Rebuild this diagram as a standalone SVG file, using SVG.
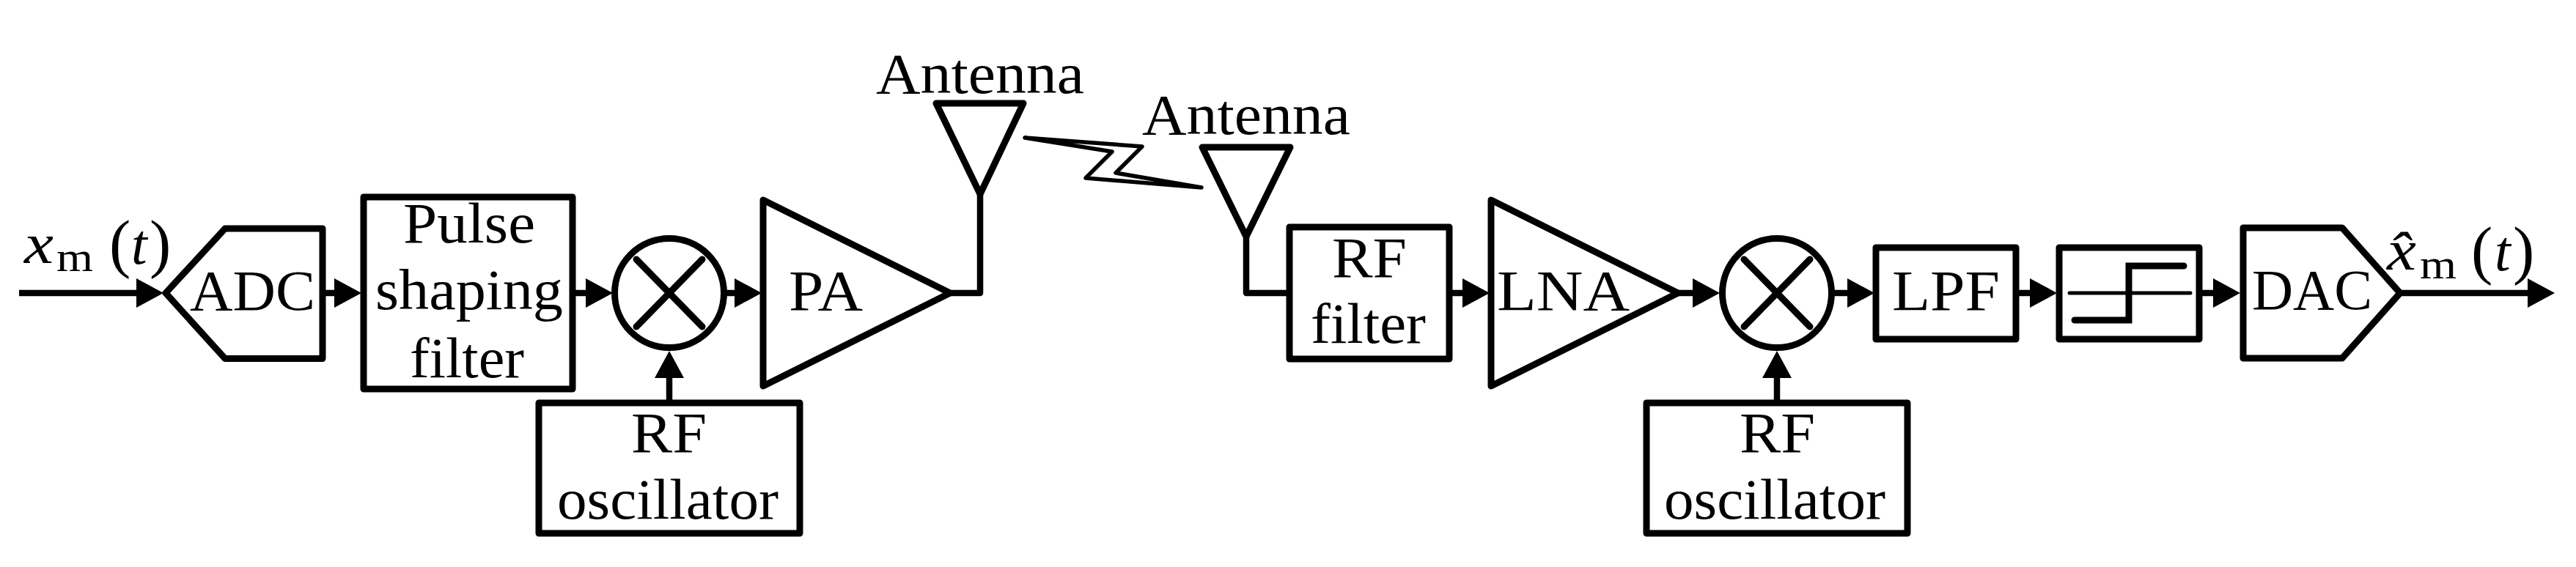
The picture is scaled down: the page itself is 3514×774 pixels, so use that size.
<svg xmlns="http://www.w3.org/2000/svg" width="3514" height="774" viewBox="0 0 3514 774">
<defs>
<style>
.s{fill:#fff;stroke:#000;stroke-width:9;stroke-linejoin:round;stroke-linecap:round}
.n{fill:none;stroke:#000;stroke-width:9;stroke-linejoin:miter;stroke-linecap:round}
.c{fill:none;stroke:#000;stroke-width:8.500;stroke-linejoin:round;stroke-linecap:butt}
.z{fill:#fff;stroke:#000;stroke-width:5.500;stroke-linejoin:round;stroke-linecap:round}
text{font-family:"Liberation Serif","Times New Roman",serif;font-size:78px;fill:#000}
.i{font-style:italic}
.sub{font-size:56px}
.p{font-size:88px}
</style>
<marker id="a" markerUnits="userSpaceOnUse" markerWidth="37" markerHeight="40" refX="5" refY="20" orient="auto"><path d="M0 0L37 20L0 40z" fill="#000"/></marker>
</defs>
<g id="connectors">
<path class="c" d="M26 400H191" stroke-linecap="round" marker-end="url(#a)"/>
<path class="c" d="M440 400H461" marker-end="url(#a)"/>
<path class="c" d="M781 400H804" marker-end="url(#a)"/>
<path class="c" d="M988 400H1007" marker-end="url(#a)"/>
<path class="c" d="M913 550V511" marker-end="url(#a)"/>
<path class="c" d="M1296 400H1337V265"/>
<path class="c" d="M1700 323V400H1760"/>
<path class="c" d="M1977 400H2000" marker-end="url(#a)"/>
<path class="c" d="M2289 400H2314" marker-end="url(#a)"/>
<path class="c" d="M2424 550V511" marker-end="url(#a)"/>
<path class="c" d="M2498 400H2525" marker-end="url(#a)"/>
<path class="c" d="M2750 400H2774" marker-end="url(#a)"/>
<path class="c" d="M3000 400H3024" marker-end="url(#a)"/>
<path class="c" d="M3274 400H3453" marker-end="url(#a)"/>
</g>
<g id="input-label">
<text class="i" x="33" y="359" font-size="80" textLength="40" lengthAdjust="spacingAndGlyphs">x</text><text class="sub" x="77" y="370" textLength="50" lengthAdjust="spacingAndGlyphs">m</text><text class="p" x="149" y="362">(</text><text class="i" x="179" y="360" font-size="80">t</text><text class="p" x="204" y="362">)</text>
</g>
<g id="adc"><path class="s" d="M226 400L307 312H440V489.500H307Z"/><text x="259" y="423" textLength="171" lengthAdjust="spacingAndGlyphs">ADC</text></g>
<g id="pulse-filter"><rect class="s" x="496" y="269" width="285" height="262"/>
<text x="550" y="331" textLength="180" lengthAdjust="spacingAndGlyphs">Pulse</text>
<text x="512" y="422" textLength="256" lengthAdjust="spacingAndGlyphs">shaping</text>
<text x="559" y="515" textLength="156" lengthAdjust="spacingAndGlyphs">filter</text></g>
<g id="mixer-tx"><circle class="s" cx="913" cy="400" r="74.500"/><path class="n" d="M868 354L958 446M958 354L868 446"/></g>
<g id="pa"><path class="s" d="M1041 273L1296 400L1041 527Z"/><text x="1076" y="423" textLength="101" lengthAdjust="spacingAndGlyphs">PA</text></g>
<g id="osc-tx"><rect class="s" x="735" y="550" width="356" height="178"/>
<text x="861" y="617" textLength="103" lengthAdjust="spacingAndGlyphs">RF</text>
<text x="760" y="708" textLength="302" lengthAdjust="spacingAndGlyphs">oscillator</text></g>
<g id="antenna-tx"><path class="s" d="M1277 141H1396L1337 265Z"/><text x="1195" y="127" textLength="284" lengthAdjust="spacingAndGlyphs">Antenna</text></g>
<g id="link"><path class="z" d="M1398 188L1558 200L1522 236L1639 256L1481 243L1517 207Z"/></g>
<g id="antenna-rx"><path class="s" d="M1640 201H1760L1700 323Z"/><text x="1558" y="183" textLength="284" lengthAdjust="spacingAndGlyphs">Antenna</text></g>
<g id="rf-filter"><rect class="s" x="1759" y="310" width="218" height="180"/>
<text x="1817" y="378" textLength="102" lengthAdjust="spacingAndGlyphs">RF</text>
<text x="1788" y="468" textLength="157" lengthAdjust="spacingAndGlyphs">filter</text></g>
<g id="lna"><path class="s" d="M2034 273L2289 400L2034 527Z"/><text x="2042" y="423" textLength="181" lengthAdjust="spacingAndGlyphs">LNA</text></g>
<g id="mixer-rx"><circle class="s" cx="2424" cy="400" r="74.500"/><path class="n" d="M2379 354L2469 446M2469 354L2379 446"/></g>
<g id="osc-rx"><rect class="s" x="2246" y="550" width="356" height="178"/>
<text x="2373" y="617" textLength="103" lengthAdjust="spacingAndGlyphs">RF</text>
<text x="2270" y="708" textLength="302" lengthAdjust="spacingAndGlyphs">oscillator</text></g>
<g id="lpf"><rect class="s" x="2559" y="338" width="191" height="125"/><text x="2581" y="423" textLength="147" lengthAdjust="spacingAndGlyphs">LPF</text></g>
<g id="quantizer"><rect class="s" x="2809" y="338" width="191" height="125"/><path class="n" style="stroke-width:5" d="M2823 400H2988"/><path class="n" d="M2830 437H2904V363H2979"/></g>
<g id="dac"><path class="s" d="M3060 311H3195L3274 400L3195 489H3060Z"/><text x="3072" y="422" textLength="164" lengthAdjust="spacingAndGlyphs">DAC</text></g>
<g id="output-label">
<text class="i" x="3256" y="368" font-size="80" textLength="40" lengthAdjust="spacingAndGlyphs">x̂</text><text class="sub" x="3301" y="380" textLength="50" lengthAdjust="spacingAndGlyphs">m</text><text class="p" x="3371" y="371">(</text><text class="i" x="3403" y="369" font-size="80">t</text><text class="p" x="3428" y="371">)</text>
</g>
</svg>
